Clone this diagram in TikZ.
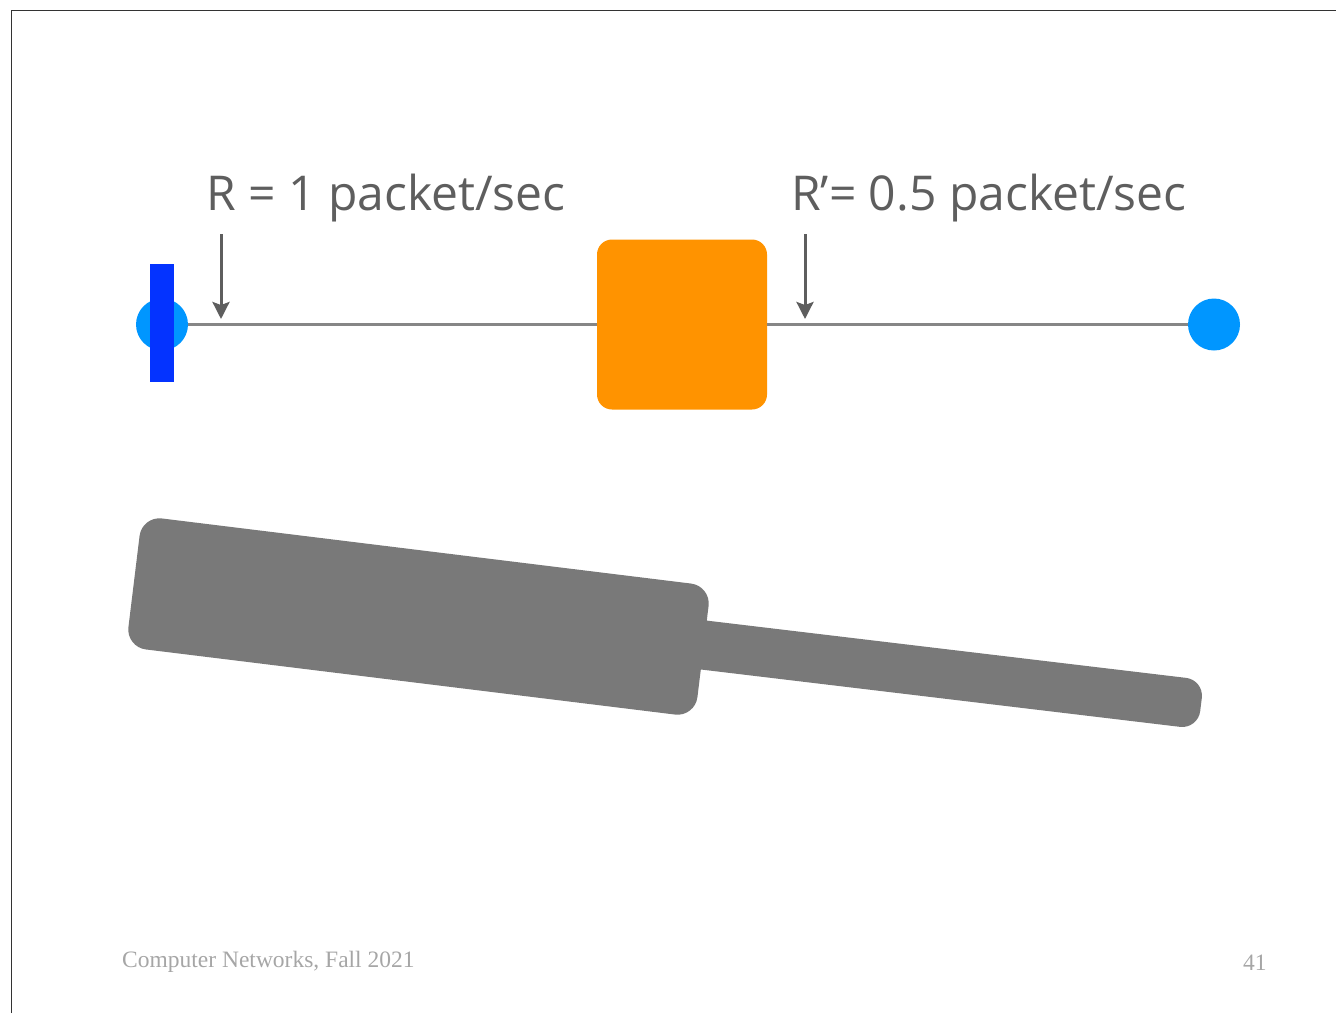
\documentclass[tikz,border=0pt]{standalone}
\usepackage{fontspec}
\setmainfont{Liberation Serif}
\newfontfamily\ratefont{Open Sans}
\usetikzlibrary{arrows.meta}

\definecolor{hostblue}{HTML}{0096FF}
\definecolor{pktblue}{HTML}{0433FF}
\definecolor{rtrorange}{HTML}{FF9300}
\definecolor{pipegray}{HTML}{797979}
\definecolor{textgray}{HTML}{5E5E5E}
\definecolor{footgray}{HTML}{A6A6A6}

\begin{document}
\begin{tikzpicture}[x=1pt,y=-1pt,
	host/.style={circle,fill=hostblue,minimum size=52pt,inner sep=0pt},
	router/.style={rectangle,rounded corners=15pt,fill=rtrorange,minimum size=170pt,inner sep=0pt},
	pkt/.style={rectangle,fill=pktblue,minimum width=24pt,minimum height=118pt,inner sep=0pt},
	link/.style={draw=pipegray!90!white,line width=2.5pt},
	rate/.style={text=textgray,font=\ratefont\fontsize{48}{58}\selectfont,anchor=base west,inner sep=0pt},
	ratearrow/.style={draw=textgray,line width=3pt,-{Stealth[length=17pt,width=17pt,inset=3pt]}},
	foot/.style={text=footgray,font=\fontsize{23.5}{28}\selectfont,anchor=base west,inner sep=0pt}]
	\useasboundingbox (0,0) rectangle (1336,1013);
	% frame of the slide
	\draw[line width=1.5pt,black!80] (11.5,1013) -- (11.5,10.5) -- (1336,10.5);

	% source, router, destination
	\node[host] (src) at (162,324.5) {};
	\node[host] (dst) at (1214,324.5) {};
	\node[router] (rtr) at (682,324.5) {};
	\draw[link] (src) -- (rtr);
	\draw[link] (rtr) -- (dst);
	\node[pkt] (p1) at (162,323) {};

	% rates
	\node[rate] (r1) at (206,210) {R = 1 packet/sec};
	\node[rate] (r2) at (791,210) {R’= 0.5 packet/sec};
	\coordinate (a1) at (221,234);
	\coordinate (a1tip) at (221,319);
	\coordinate (a2) at (805,234);
	\coordinate (a2tip) at (805,319);
	\draw[ratearrow] (a1) -- (a1tip);
	\draw[ratearrow] (a2) -- (a2tip);

	% the pipe, wide then narrow
	\fill[pipegray,rounded corners=20pt] (142,516) -- (711,586) -- (695,717) -- (126,647) -- cycle;
	\fill[pipegray,rounded corners=18pt] (660,615) -- (1204,680) -- (1198,729) -- (655,664) -- cycle;

	% footer
	\node[foot] (course) at (122,967) {Computer Networks, Fall 2021};
	\node[foot] (page) at (1243,970) {41};
\end{tikzpicture}
\end{document}
